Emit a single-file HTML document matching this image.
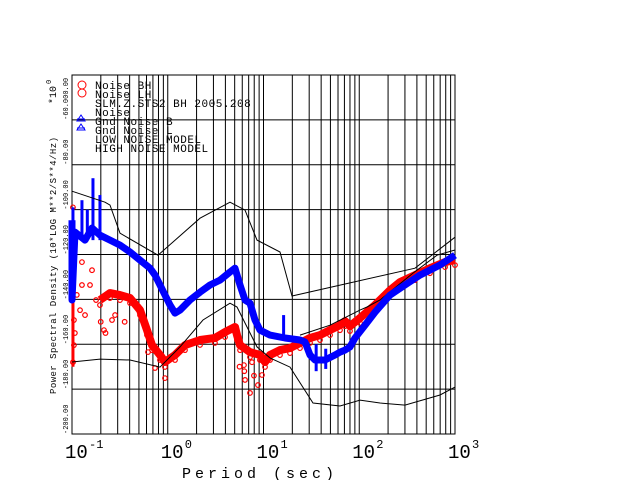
<!DOCTYPE html>
<html><head><meta charset="utf-8"><style>
html,body{margin:0;padding:0;background:#fff}
svg{display:block}
text{font-family:"Liberation Mono","DejaVu Sans Mono",monospace}
</style></head><body>
<svg id="chart" width="640" height="480" viewBox="0 0 640 480" xmlns="http://www.w3.org/2000/svg">
<rect width="640" height="480" fill="#fff"/>
<g id="grid"></g>
<g id="series"></g>
<g id="axes"></g>
<g id="legend"></g>
</svg>
<script>
// ---- data (log10 period, dB) ----
const xDecades = [-1, 0, 1, 2, 3];
const yTicks = [-200, -180, -160, -140, -120, -100, -80, -60];
const yTickLabels = ["-200.00","-180.00","-160.00","-140.00","-120.00","-100.00","-80.00","-60.000.00"];
const legendLabels = ["Noise BH","Noise LH","SLM.Z.STS2 BH  2005.208","Noise","Gnd Noise B","Gnd Noise L","LOW NOISE MODEL","HIGH NOISE MODEL"];

const redLogP = [-0.708,-0.603,-0.499,-0.394,-0.290,-0.217,-0.164,-0.081,-0.029,0.076,0.180,0.337,0.493,0.598,0.702,0.723,0.755,0.859,0.963,1.016,1.068,1.172,1.277,1.381,1.486,1.590,1.695,1.799,1.851,1.903,2.008,2.164,2.321,2.426,2.582,2.739,2.896,3.0];
const redDb   = [-140.3,-137.2,-138.1,-139.4,-144.8,-153.7,-160.4,-164.8,-167.9,-164.8,-160.4,-158.1,-157.2,-154.6,-152.3,-155.9,-160.4,-163.5,-164.8,-167.9,-164.8,-162.6,-161.7,-159.5,-157.2,-155.9,-153.7,-151.5,-149.7,-151.9,-148.3,-142.5,-135.9,-132.3,-129.2,-126.1,-123.4,-122.5];
const redScatterLogP = [-0.99,-0.99,-0.98,-0.98,-0.99,-0.896,-0.896,-0.812,-0.791,-0.749,-0.864,-0.916,-0.666,-0.582,-0.206,-0.133,-0.029,0.807,0.859,0.942,0.796,0.984,-0.99,-0.70,-0.65,-0.55,-0.45,0.75,0.80,0.88,0.90,-0.99,-0.97,-0.95];
const redScatterDb   = [-109.1,-122.5,-149.2,-160.4,-168.0,-123.4,-133.6,-133.6,-127.0,-140.3,-147.0,-144.8,-153.7,-149.2,-163.5,-170.6,-175.1,-175.9,-181.7,-178.2,-169.3,-173.7,-133.0,-150.0,-155.0,-147.0,-150.0,-170.0,-172.0,-168.0,-174.0,-99.0,-155.0,-138.0];

const blueLogP = [-1.0,-1.0,-0.969,-0.864,-0.791,-0.708,-0.603,-0.499,-0.394,-0.290,-0.185,-0.133,-0.081,-0.029,0.024,0.076,0.128,0.232,0.337,0.441,0.546,0.650,0.702,0.755,0.807,0.859,0.911,0.963,1.068,1.225,1.381,1.433,1.486,1.538,1.642,1.747,1.799,1.851,1.903,1.956,2.060,2.164,2.321,2.478,2.634,2.843,3.0];
const blueDb   = [-104.7,-140.3,-110.0,-113.6,-108.2,-111.4,-113.6,-115.8,-118.9,-122.5,-126.1,-129.2,-133.6,-138.1,-142.5,-146.1,-144.8,-140.3,-136.8,-133.6,-131.4,-127.8,-126.1,-133.6,-140.3,-141.7,-149.2,-153.7,-155.9,-157.2,-158.1,-159.0,-164.8,-167.0,-167.0,-164.8,-163.5,-162.6,-161.2,-157.2,-151.5,-145.7,-138.1,-133.6,-129.2,-124.7,-120.3];
const blueSpikeLogP = [-0.781,-0.896,-0.708,-0.84,-0.99,1.21,1.55,1.65];
const blueSpikeTop  = [-86.0,-95.8,-93.5,-100.0,-99.0,-147.0,-160.0,-162.0];
const blueSpikeBot  = [-113.6,-111.4,-113.6,-112.0,-110.0,-158.0,-172.0,-171.0];

const noiseLogP = [1.381,1.695,2.008,2.081,2.217,2.561,2.812,3.0];
const noiseDb   = [-155.9,-151.5,-144.8,-143.4,-140.3,-128.3,-120.3,-118.0];

const nhnmLogP = [-1,-0.655,-0.603,-0.499,-0.102,0.337,0.650,0.807,0.932,1.172,1.298,2.582,3.0];
const nhnmDb   = [-91.8,-96.7,-98.0,-110.5,-120.3,-103.8,-96.7,-100.2,-113.6,-118.9,-138.5,-126.1,-112.3];

const nlnmLogP = [-1,-0.708,-0.394,-0.081,0.128,0.368,0.650,0.723,0.932,1.068,1.277,1.517,1.799,2.008,2.217,2.478,2.843,3.0];
const nlnmDb   = [-167.9,-166.6,-167.0,-170.2,-161.2,-149.2,-141.7,-143.4,-161.2,-166.1,-170.2,-186.2,-187.5,-184.9,-186.2,-187.1,-182.6,-179.1];

// ---- axes ----
const L=72,R=455,T=75,B=434;
const xMin=-1,xMax=3,yMin=-200,yMax=-40;
function sx(lp){return L+(lp-xMin)/(xMax-xMin)*(R-L);}
function sy(db){return B-(db-yMin)/(yMax-yMin)*(B-T);}
const NS="http://www.w3.org/2000/svg";
function mk(tag,attrs,parent){const e=document.createElementNS(NS,tag);for(const k in attrs)e.setAttribute(k,attrs[k]);parent.appendChild(e);return e;}
const grid=document.getElementById('grid'),series=document.getElementById('series'),axes=document.getElementById('axes'),legend=document.getElementById('legend');

for(let d=xDecades[0];d<xDecades[xDecades.length-1];d++){
  for(let k=1;k<10;k++){
    const x=sx(d+Math.log10(k));
    const ln=mk('line',{x1:x,x2:x,y1:T,y2:B,stroke:'#000','stroke-width':1},grid);
    
    
  }
}
for(const v of yTicks.concat([-40])){
  const y=sy(v);
  const ln=mk('line',{x1:L,x2:R,y1:y,y2:y,stroke:'#000','stroke-width':1},grid);
  
  
}
const fr=mk('rect',{x:L,y:T,width:R-L,height:B-T,fill:'none',stroke:'#000','stroke-width':1},grid);



function pathOf(xs,ys){return xs.map((v,i)=>(i?'L':'M')+sx(v).toFixed(1)+','+sy(ys[i]).toFixed(1)).join('');}

// red band
const rb=mk('path',{d:pathOf(redLogP,redDb),fill:'none',stroke:'#ff0000','stroke-width':8,'stroke-linejoin':'round'},series);


const rv=mk('line',{x1:sx(-0.99),x2:sx(-0.99),y1:sy(-133),y2:sy(-170),stroke:'#ff0000','stroke-width':3},series);


redScatterLogP.forEach((v,i)=>{
  const c=mk('circle',{cx:sx(v),cy:sy(redScatterDb[i]),r:2.3,fill:'none',stroke:'#ff0000','stroke-width':1.2},series);
  
  
});
redLogP.forEach((v,i)=>{
  const c=mk('circle',{cx:sx(v),cy:sy(redDb[i])+5,r:2.3,fill:'none',stroke:'#ff0000','stroke-width':1.2},series);
  
  
});
// black noise line on red
const nl=mk('path',{d:pathOf(noiseLogP,noiseDb),fill:'none',stroke:'#000','stroke-width':1},series);


// blue band
const bb=mk('path',{d:pathOf(blueLogP,blueDb),fill:'none',stroke:'#0000ff','stroke-width':7,'stroke-linejoin':'round'},series);


blueSpikeLogP.forEach((v,i)=>{
  const s=mk('line',{x1:sx(v),x2:sx(v),y1:sy(blueSpikeTop[i]),y2:sy(blueSpikeBot[i]),stroke:'#0000ff','stroke-width':3},series);
  
  
});
// models
const hn=mk('path',{d:pathOf(nhnmLogP,nhnmDb),fill:'none',stroke:'#000','stroke-width':1},series);


const lnm=mk('path',{d:pathOf(nlnmLogP,nlnmDb),fill:'none',stroke:'#000','stroke-width':1},series);



// x tick labels
xDecades.forEach((d,i)=>{
  const x=sx(d)-7;
  const t=mk('text',{x:x,y:458,'font-size':19},axes);
  t.textContent='10';
  
  
  const s=mk('text',{x:x+24,y:448,'font-size':12},axes);
  s.textContent=String(d);
  
  
});
const xt=mk('text',{x:182,y:478,'font-size':15,'letter-spacing':4},axes);
xt.textContent='Period (sec)';



// y tick labels (rotated, ending at gridline)
yTicks.forEach((v,i)=>{
  const y=sy(v);
  const t=mk('text',{x:0,y:0,'font-size':7,'text-anchor':'start',transform:`translate(68,${y}) rotate(-90)`},axes);
  t.textContent=yTickLabels[i];
  
  
});
const yt=mk('text',{x:0,y:0,'font-size':9,'letter-spacing':0.45,transform:'translate(56,394) rotate(-90)'},axes);
yt.textContent='Power Spectral Density (10*LOG M**2/S**4/Hz)';


const ym=mk('text',{x:0,y:0,'font-size':10,transform:'translate(56,104) rotate(-90)'},axes);
ym.textContent='*10';


const ym2=mk('text',{x:0,y:0,'font-size':7,transform:'translate(51,84) rotate(-90)'},axes);
ym2.textContent='0';



// legend
legendLabels.forEach((lab,i)=>{
  const y=89+i*9;
  const t=mk('text',{x:95,y:y,'font-size':11,'letter-spacing':0.5},legend);
  t.textContent=lab;
  
  
});
[0,1].forEach(i=>{
  const c=mk('circle',{cx:82,cy:85+i*8,r:4,fill:'none',stroke:'#ff0000','stroke-width':1},legend);
  
  
});
[0,1].forEach(i=>{
  const yy=121+i*9;
  const p=mk('path',{d:`M77,${yy} L81,${yy-6} L85,${yy} Z M77,${yy-2} L85,${yy-2}`,fill:'none',stroke:'#0000ff','stroke-width':1},legend);
  
  
});
</script>
</body></html>
